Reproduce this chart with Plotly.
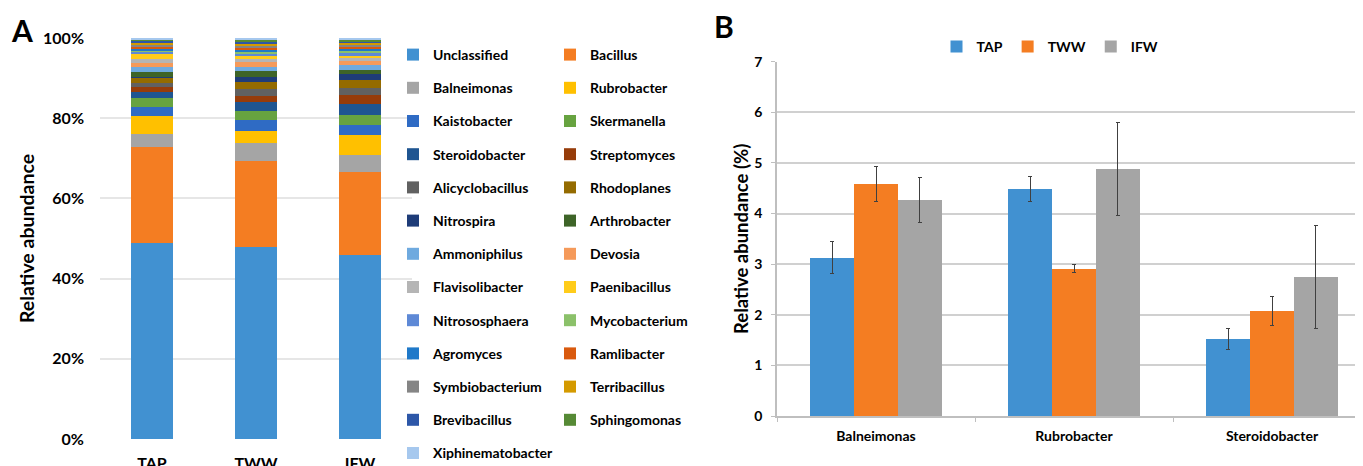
import plotly.graph_objects as go

# ---------------- data ----------------
samples = ["TAP", "TWW", "IFW"]
genera = ["Unclassified", "Bacillus", "Balneimonas", "Rubrobacter", "Kaistobacter",
          "Skermanella", "Steroidobacter", "Streptomyces", "Alicyclobacillus", "Rhodoplanes",
          "Nitrospira", "Arthrobacter", "Ammoniphilus", "Devosia", "Flavisolibacter",
          "Paenibacillus", "Nitrososphaera", "Mycobacterium", "Agromyces", "Ramlibacter",
          "Symbiobacterium", "Terribacillus", "Brevibacillus", "Sphingomonas", "Xiphinematobacter"]
tap_abund = [49.0, 23.9, 3.1, 4.5, 2.4, 2.1, 1.5, 1.3, 1.1, 1.2, 0.3, 1.1, 1.2, 1.0, 1.0,
             1.2, 0.6, 0.5, 0.4, 0.4, 0.5, 0.4, 0.6, 0.4, 0.3]
tww_abund = [48.0, 21.3, 4.6, 2.9, 2.8, 2.3, 2.1, 1.6, 1.8, 1.6, 1.4, 1.3, 1.1, 1.1, 0.9,
             0.6, 0.6, 0.5, 0.6, 0.5, 0.5, 0.5, 0.5, 0.5, 0.4]
ifw_abund = [45.8, 20.8, 4.3, 4.9, 2.4, 2.6, 2.7, 2.4, 1.7, 1.9, 1.4, 1.2, 1.2, 1.0, 0.8,
             0.6, 0.5, 0.5, 0.5, 0.6, 0.4, 0.5, 0.5, 0.4, 0.4]
genus_colors = ["#4191D1", "#F47D22", "#A5A5A5", "#FFC000", "#2F6BC4",
                "#67A340", "#1F5591", "#963C0A", "#616161", "#946B00",
                "#1E3C78", "#3E6428", "#6FAADF", "#F59A5A", "#B5B5B5",
                "#FFCC1A", "#5E89D6", "#8BC16A", "#1F79C9", "#D95A0E",
                "#858585", "#D49A00", "#2D57A8", "#568A35", "#A6C8EE"]
pct_ticks = [0, 20, 40, 60, 80, 100]
pct_labels = ["0%", "20%", "40%", "60%", "80%", "100%"]

genera_b = ["Balneimonas", "Rubrobacter", "Steroidobacter"]
b_tap = [3.13, 4.49, 1.52]
b_tap_err = [0.31, 0.25, 0.21]
b_tww = [4.58, 2.91, 2.08]
b_tww_err = [0.34, 0.08, 0.29]
b_ifw = [4.27, 4.88, 2.74]
b_ifw_err = [0.45, 0.92, 1.02]
sample_colors = ["#4191D1", "#F47D22", "#A5A5A5"]

# page body has an 8px margin, so the figure is drawn 8px in from the corner
OFF = 8
W, H = 1363 - OFF, 466 - OFF
FONT = "Lato"

fig = go.Figure()

# ---------------- panel A (stacked) ----------------
for i, g in enumerate(genera):
    fig.add_trace(go.Bar(
        x=samples, y=[tap_abund[i], tww_abund[i], ifw_abund[i]], name=g,
        marker=dict(color=genus_colors[i], line=dict(width=0)),
        width=0.4, offsetgroup="A", xaxis="x", yaxis="y",
        legend="legend" if i % 2 == 0 else "legend2", legendgroup=g,
    ))

# ---------------- panel B (grouped) ----------------
for name, vals, errs, col in [("TAP", b_tap, b_tap_err, sample_colors[0]),
                              ("TWW", b_tww, b_tww_err, sample_colors[1]),
                              ("IFW", b_ifw, b_ifw_err, sample_colors[2])]:
    fig.add_trace(go.Bar(
        x=genera_b, y=vals, name=name, offsetgroup=name,
        marker=dict(color=col, line=dict(width=0)),
        error_y=dict(type="data", array=errs, color="#404040", thickness=1, width=2),
        xaxis="x2", yaxis="y2", legend="legend3",
    ))

def px_x(p):
    return (p - OFF) / W

def px_y(p):
    return (H - (p - OFF)) / H

bold = dict(family=FONT, color="#000000", weight="bold")

fig.update_layout(
    width=W, height=H, margin=dict(l=0, r=0, t=0, b=0, autoexpand=False),
    paper_bgcolor="white", plot_bgcolor="white",
    barmode="stack", bargap=0.338, bargroupgap=0,
    font=dict(family=FONT, color="#000000"),
    xaxis=dict(domain=[px_x(100), px_x(412)], range=[-0.5, 2.5], showgrid=False,
               showline=False, ticks="", ticklabelstandoff=13,
               tickfont=dict(size=16, **bold), fixedrange=True),
    yaxis=dict(domain=[px_y(439), px_y(38)], range=[0, 100], tickvals=pct_ticks,
               ticktext=pct_labels, showgrid=True, gridcolor="#E6E6E6", gridwidth=1.5,
               zeroline=False, showline=False, ticks="", ticklabelstandoff=15,
               tickfont=dict(size=16, **bold),
               title=dict(text="Relative abundance", font=dict(size=19.5, **bold), standoff=3),
               automargin=False),
    xaxis2=dict(domain=[px_x(777), 1.0], range=[-0.5, (1363 - 777) / 198 - 0.5],
                showgrid=False, showline=True, linecolor="#BFBFBF", linewidth=1.5,
                ticks="outside", tickson="boundaries", ticklen=4, tickcolor="#BFBFBF",
                tickfont=dict(size=14, **bold), ticklabelstandoff=6, anchor="y2"),
    yaxis2=dict(domain=[px_y(416), px_y(61.7)], range=[0, 7], dtick=1, anchor="x2",
                showgrid=True, gridcolor="#D0D0D0", gridwidth=1.5, zeroline=False,
                showline=True, linecolor="#BFBFBF", linewidth=1.5,
                ticks="outside", ticklen=4, tickcolor="#BFBFBF",
                tickfont=dict(size=14, **bold), ticklabelstandoff=6,
                title=dict(text="Relative abundance (%)", font=dict(size=18.5, **bold), standoff=1),
                automargin=False),
    legend=dict(x=px_x(393), y=px_y(39), xanchor="left", yanchor="top",
                traceorder="grouped", tracegroupgap=12, bgcolor="rgba(0,0,0,0)",
                font=dict(size=14, **bold)),
    legend2=dict(x=px_x(550), y=px_y(39), xanchor="left", yanchor="top",
                 traceorder="grouped", tracegroupgap=12, bgcolor="rgba(0,0,0,0)",
                 font=dict(size=14, **bold)),
    legend3=dict(x=px_x(1050), y=px_y(47), xanchor="center", yanchor="middle",
                 orientation="h", traceorder="normal", bgcolor="rgba(0,0,0,0)",
                 font=dict(size=14, **bold)),
    annotations=[
        dict(text="A", x=px_x(22), y=px_y(30), xref="paper", yref="paper",
             xanchor="center", yanchor="middle", showarrow=False, font=dict(size=30, **bold)),
        dict(text="B", x=px_x(724), y=px_y(26), xref="paper", yref="paper",
             xanchor="center", yanchor="middle", showarrow=False, font=dict(size=30, **bold)),
    ],
)

fig.write_html("out.html")
